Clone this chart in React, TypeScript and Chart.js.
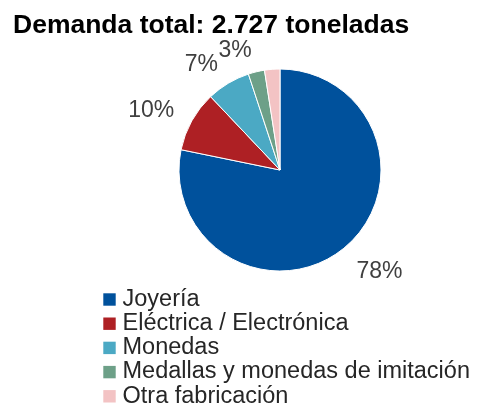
import React, { useEffect, useRef } from "react";
import { Chart, registerables } from "chart.js";

Chart.register(...registerables);

const TITLE = "Demanda total: 2.727 toneladas";
const categories = [
  "Joyería",
  "Eléctrica / Electrónica",
  "Monedas",
  "Medallas y monedas de imitación",
  "Otra fabricación",
];
const tonnes = [2133, 265, 191, 71, 67];
const pctLabels = ["78%", "10%", "7%", "3%", ""];
const colors = ["#00519c", "#ae2024", "#4ba9c4", "#6da088", "#f3c3c4"];

const FONT = "'Liberation Sans', Arial, Helvetica, sans-serif";

const overlayPlugin = {
  id: "overlay",
  afterDraw(chart: any) {
    const ctx = chart.ctx as CanvasRenderingContext2D;
    ctx.save();
    // Title
    ctx.fillStyle = "#000000";
    ctx.font = `bold 26.5px ${FONT}`;
    ctx.textAlign = "left";
    ctx.textBaseline = "alphabetic";
    ctx.fillText(TITLE, 13, 33.3);

    // Percentage labels
    const meta = chart.getDatasetMeta(0);
    const size = 23;
    ctx.font = `${size}px ${FONT}`;
    ctx.fillStyle = "#404040";
    meta.data.forEach((arc: any, i: number) => {
      const txt = pctLabels[i];
      if (!txt) return;
      const mid = (arc.startAngle + arc.endAngle) / 2;
      const dx = Math.cos(mid);
      const dy = Math.sin(mid);
      const R = arc.outerRadius + 20;
      const px = arc.x + dx * R;
      const py = arc.y + dy * R;
      const capH = size * 0.716;
      const cy = py + dy * (capH / 2) * (dy > 0 ? 1 : 0.5);
      ctx.textAlign = dx >= 0 ? "left" : "right";
      ctx.fillText(txt, px, cy + capH / 2);
    });

    // Legend
    const lsize = 23.5;
    ctx.font = `${lsize}px ${FONT}`;
    ctx.textAlign = "left";
    categories.forEach((c, i) => {
      const base = 305.7 + i * 24.2;
      ctx.fillStyle = colors[i];
      ctx.fillRect(103.3, base - 12.4, 12.4, 12.4);
      ctx.fillStyle = "#262626";
      ctx.fillText(c, 122.5, base);
    });
    ctx.restore();
  },
};

export default function App() {
  const ref = useRef<HTMLCanvasElement | null>(null);
  useEffect(() => {
    if (!ref.current) return;
    const chart = new Chart(ref.current, {
      type: "pie",
      data: {
        labels: categories,
        datasets: [
          {
            data: tonnes,
            backgroundColor: colors,
            borderColor: "#ffffff",
            borderWidth: 1,
          },
        ],
      },
      options: {
        responsive: false,
        animation: false,
        layout: { padding: { left: 178.5, right: 100.5, top: 68.5, bottom: 132.5 } },
        plugins: {
          legend: { display: false },
          title: { display: false },
          tooltip: { enabled: false },
        },
      },
      plugins: [overlayPlugin],
    });
    return () => chart.destroy();
  }, []);
  return (
    <div style={{ position: "absolute", left: 0, top: 0, width: 482, height: 404, background: "#ffffff" }}>
      <canvas ref={ref} width={482} height={404} style={{ width: 482, height: 404 }} />
    </div>
  );
}
